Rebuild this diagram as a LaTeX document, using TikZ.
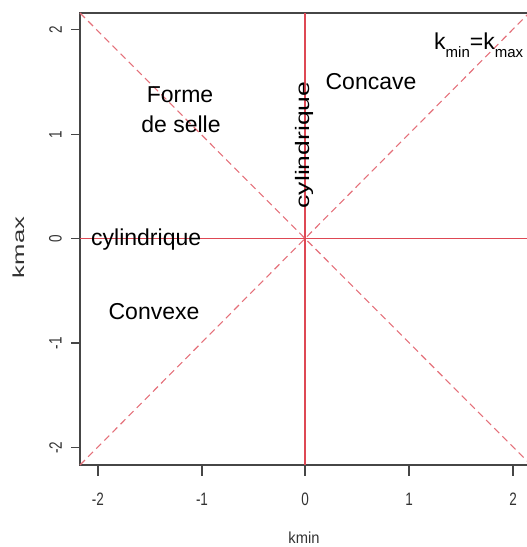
\documentclass[tikz,border=0pt]{standalone}
\usepackage{fontspec}
\setmainfont{Liberation Sans}
\usepackage{graphicx}
\definecolor{redA}{RGB}{222,72,84}
\definecolor{redB}{RGB}{228,112,122}
\definecolor{axisgray}{RGB}{70,70,70}
\begin{document}
\begin{tikzpicture}[x=1bp,y=-1bp,
  frame/.style={draw=axisgray, line width=1.3bp},
  zeroline/.style={draw=redA, line width=1.4bp},
  diag/.style={draw=redB, line width=1.1bp, dash pattern=on 7bp off 4.5bp},
  lbl/.style={inner sep=0pt, font=\fontsize{23bp}{28bp}\selectfont},
  tickmark/.style={draw=axisgray, line width=1.1bp},
  ticklbl/.style={inner sep=0pt, text=black!80, font=\fontsize{18bp}{20bp}\selectfont},
  axlbl/.style={inner sep=0pt, text=black!80, font=\fontsize{16bp}{18bp}\selectfont}]
\useasboundingbox (0,0) rectangle (527,547);
\clip (0,0) rectangle (527,547);
% plot frame
\coordinate (tl) at (80,13);
\coordinate (bl) at (80,465);
\coordinate (tr) at (545,13);
\coordinate (br) at (545,465);
\draw[frame] (tr) -- (tl) -- (bl) -- (br);
% zero lines
\coordinate (hzl) at (80,238.5);
\coordinate (hzr) at (545,238.5);
\coordinate (vzt) at (305,13);
\coordinate (vzb) at (305,465);
\draw[zeroline] (hzl) -- (hzr);
\draw[zeroline] (vzt) -- (vzb);
% diagonals
\coordinate (d1e) at (545,479);
\coordinate (d2e) at (545,-3);
\draw[diag] (tl) -- (d1e);
\draw[diag] (bl) -- (d2e);
% x ticks
\foreach \xx/\lab/\nm in {98/-2/a,202/-1/b,305/0/c,409/1/d,513/2/e}{
  \coordinate (xt\nm) at (\xx,465);
  \coordinate (xb\nm) at (\xx,476);
  \draw[tickmark] (xt\nm) -- (xb\nm);
  \node[ticklbl] (xl\nm) at (\xx,499.5) {\scalebox{0.75}[1]{\lab}};
}
% y ticks
\foreach \yy/\lab/\nm in {29.3/2/a,134.3/1/b,238.5/0/c,343/-1/d,447.7/-2/e}{
  \coordinate (yt\nm) at (80,\yy);
  \coordinate (yb\nm) at (71,\yy);
  \draw[tickmark] (yt\nm) -- (yb\nm);
  \node[ticklbl] (yl\nm) at (55.5,\yy) {\rotatebox{90}{\scalebox{0.75}[1]{\lab}}};
}
% axis labels
\node[axlbl] (kminlab) at (304,538) {\scalebox{0.92}[1]{kmin}};
\node[axlbl] (kmaxlab) at (18.5,247.5) {\rotatebox{90}{\scalebox{1.6}[1]{kmax}}};
% region labels
\node[lbl, anchor=base] (forme) at (180,103) {Forme};
\node[lbl, anchor=base] (selle) at (181,133) {de selle};
\node[lbl, anchor=base] (concave) at (371,90) {Concave};
\node[lbl, anchor=base] (convexe) at (154,319) {Convexe};
\node[lbl, anchor=base west] (cylh) at (91,245) {cylindrique};
\node[inner sep=0pt, font=\fontsize{19.5bp}{22bp}\selectfont] (cylv) at (304,145)
  {\rotatebox{90}{\scalebox{1.36}[1]{cylindrique}}};
\node[lbl, anchor=base west] (keq) at (434,50)
  {k\raisebox{-8bp}{\fontsize{15bp}{17bp}\selectfont min}=k\raisebox{-8bp}{\fontsize{15bp}{17bp}\selectfont max}};
\end{tikzpicture}
\end{document}
